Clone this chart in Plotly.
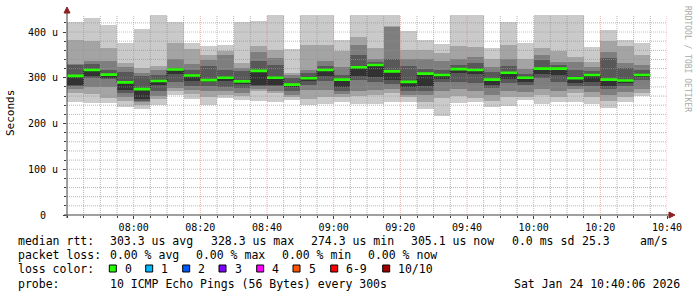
import plotly.graph_objects as go
from datetime import datetime, timedelta

# ---------------- data (µs) ----------------
START = datetime(2026, 1, 24, 7, 40)
END = datetime(2026, 1, 24, 10, 40)
STEP_MIN = 5

# sorted ping values per 5-minute bin (p1 = fastest ... p10 = slowest)
p1 = [248, 245, 245, 237, 231, 240, 262, 254, 240, 256, 252, 250, 246, 252, 241, 243, 248, 243, 242, 248,
      248, 231, 217, 245, 246, 236, 238, 252, 243, 246, 248, 242, 233, 246, 261]
p2 = [266, 265, 256, 250, 241, 254, 272, 265, 259, 263, 261, 270, 267, 258, 254, 259, 258, 261, 262, 266,
      258, 246, 256, 261, 256, 250, 259, 259, 262, 258, 266, 258, 250, 258, 267]
p3 = [275, 280, 280, 258, 246, 260, 278, 274, 270, 270, 267, 276, 270, 263, 274, 274, 264, 270, 273, 275,
      263, 262, 270, 275, 272, 262, 270, 268, 275, 272, 275, 269, 262, 268, 275]
p4 = [281, 300, 297, 266, 250, 270, 290, 283, 281, 280, 278, 281, 281, 272, 285, 292, 270, 296, 291, 287,
      272, 272, 290, 290, 289, 278, 289, 284, 300, 290, 283, 282, 276, 281, 296]
p5 = [285, 304, 300, 274, 254, 284, 308, 292, 290, 294, 287, 285, 285, 281, 292, 303, 280, 303, 302, 296,
      280, 282, 298, 310, 308, 285, 297, 290, 308, 306, 288, 291, 283, 290, 301]
p6 = [304, 317, 307, 290, 275, 293, 318, 305, 295, 300, 292, 315, 300, 285, 299, 317, 296, 323, 328, 314,
      291, 309, 306, 319, 317, 296, 311, 300, 320, 320, 299, 306, 296, 294, 306]
p7 = [327, 330, 316, 312, 303, 305, 322, 318, 325, 318, 314, 336, 329, 300, 310, 325, 307, 350, 334, 340,
      325, 320, 318, 328, 332, 312, 325, 308, 339, 328, 317, 315, 344, 322, 316]
p8 = [331, 336, 337, 323, 310, 318, 342, 331, 338, 349, 322, 357, 343, 305, 318, 336, 323, 372, 342, 410,
      340, 340, 336, 342, 346, 324, 341, 320, 350, 335, 335, 324, 357, 333, 328]
p9 = [382, 381, 366, 333, 322, 325, 376, 363, 350, 359, 333, 370, 360, 310, 372, 372, 358, 390, 364, 413,
      360, 360, 354, 369, 368, 341, 371, 342, 365, 358, 346, 335, 380, 370, 349]
p10 = [422, 431, 416, 377, 406, 440, 421, 377, 369, 372, 421, 425, 440, 363, 440, 440, 382, 440, 440, 440,
       402, 382, 374, 440, 440, 365, 421, 376, 440, 440, 440, 368, 404, 383, 375]
median = p6  # median rtt per bin

Y_MAX = 437.2
y_tick_vals = [0, 100, 200, 300, 400]
y_tick_text = ["0\u00a0\u00a0", "100 u", "200 u", "300 u", "400 u"]
x_tick_text = ["08:00", "08:20", "08:40", "09:00", "09:20", "09:40", "10:00", "10:20", "10:40"]

row1 = [("median rtt:", 16), ("303.3 us avg", 108), ("328.3 us max", 208.5), ("274.3 us min", 309),
        ("305.1 us now", 409), ("0.0 ms sd", 510), ("25.3", 579.5), ("am/s", 638)]
row2 = [("packet loss:", 16), ("0.00 % avg", 108), ("0.00 % max", 194), ("0.00 % min", 280),
        ("0.00 % now", 366)]
loss_labels = ["0", "1", "2", "3", "4", "5", "6-9", "10/10"]
loss_colors = ["#26ff00", "#00b8ff", "#0059ff", "#7e00ff", "#ff00ff", "#ff5500", "#ff0000", "#a10000"]
probe_text = "10 ICMP Echo Pings (56 Bytes) every 300s"
stamp_text = "Sat Jan 24 10:40:06 2026"

# ---------------- geometry helpers ----------------
W, H = 697, 297
L, R, T, B = 67, 667, 15, 215


def px(x):
    return (x - L) / (R - L)


def py(y):
    return (B - y) / (B - T)


step = timedelta(minutes=STEP_MIN)
bin_start = [START + step * k for k in range(len(median))]
bin_mid = [s + step / 2 for s in bin_start]
bin_end = [s + step for s in bin_start]
width_ms = STEP_MIN * 60 * 1000

fig = go.Figure()

# smoke
layers = [(p1, p10, "#cacaca"), (p2, p9, "#a4a4a4"), (p3, p8, "#7e7e7e"),
          (p4, p7, "#585858"), (p5, p6, "#323232")]
for lo, hi, col in layers:
    fig.add_trace(go.Bar(x=bin_mid, base=lo, y=[h - l for l, h in zip(lo, hi)], width=width_ms,
                         marker=dict(color=col, line=dict(width=0)), hoverinfo="skip",
                         showlegend=False))

# median step line
fig.add_trace(go.Scatter(x=bin_start + [bin_end[-1]], y=median + [median[-1]], mode="lines",
                         line=dict(color="#202020", width=1, shape="hv"), hoverinfo="skip",
                         showlegend=False))

# green median bars (loss 0)
SW = 2.9
gx, gy = [], []
for s, e, m in zip(bin_start, bin_end, median):
    gx += [s, e, e, s, s, None]
    gy += [m - SW, m - SW, m + SW, m + SW, m - SW, None]
fig.add_trace(go.Scatter(x=gx, y=gy, mode="lines", fill="toself", fillcolor=loss_colors[0],
                         line=dict(width=0, color=loss_colors[0]), hoverinfo="skip",
                         showlegend=False))

shapes = []
MINOR = "rgba(150,150,150,0.7)"
MAJOR = "rgba(225,110,110,0.55)"
DASH = "1px,1px"
# horizontal grid
for v in range(20, int(Y_MAX), 20):
    shapes.append(dict(type="line", xref="paper", yref="y", x0=0, x1=1, y0=v, y1=v, layer="above",
                       line=dict(color=MAJOR if v % 100 == 0 else MINOR, width=1, dash=DASH)))
# vertical grid
t = START + step
while t <= END:
    major = (t.minute % 20 == 0)
    shapes.append(dict(type="line", xref="x", yref="paper", x0=t, x1=t, y0=0, y1=1, layer="above",
                       line=dict(color=MAJOR if major else MINOR, width=1, dash=DASH)))
    t += step

AX = "#404040"
ARROW = "#8b2020"
shapes.append(dict(type="line", xref="paper", yref="paper", x0=px(64), x1=px(671), y0=py(215), y1=py(215),
                   line=dict(color=AX, width=1), layer="above"))
shapes.append(dict(type="line", xref="paper", yref="paper", x0=px(67), x1=px(67), y0=py(218), y1=py(11),
                   line=dict(color=AX, width=1), layer="above"))
shapes.append(dict(type="path", xref="paper", yref="paper", layer="above",
                   path=f"M {px(669)} {py(212)} L {px(675)} {py(215)} L {px(669)} {py(218)} Z",
                   fillcolor=ARROW, line=dict(color=ARROW, width=1)))
shapes.append(dict(type="path", xref="paper", yref="paper", layer="above",
                   path=f"M {px(64)} {py(13)} L {px(67)} {py(7)} L {px(70)} {py(13)} Z",
                   fillcolor=ARROW, line=dict(color=ARROW, width=1)))

MONO = "DejaVu Sans Mono"
LEG = dict(family=MONO, size=11.5, color="#000000")
ann = []


def text(s, x, y, font=LEG, xanchor="left", **kw):
    ann.append(dict(text=s, x=px(x), y=py(y), xref="paper", yref="paper", showarrow=False,
                    xanchor=xanchor, yanchor="middle", font=font, **kw))


for s, x in row1:
    text(s, x, 241)
for s, x in row2:
    text(s, x, 255)
text("loss color:", 16, 268.5)
box_x = [109.3, 145.7, 182.7, 219, 256.7, 293, 330.7, 382.7]
for lab, col, bx in zip(loss_labels, loss_colors, box_x):
    shapes.append(dict(type="rect", xref="paper", yref="paper", x0=px(bx), x1=px(bx + 7),
                       y0=py(265), y1=py(272), fillcolor=col, line=dict(color="#000000", width=1)))
    text(lab, bx + 13.5, 268.5)
text("probe:", 16, 283.5)
text(probe_text, 108, 283.5)
text(stamp_text, 682, 283.5, xanchor="right")
text("Seconds", 10, 113, font=dict(family=MONO, size=11, color="#000000"), xanchor="center",
     textangle=-90)
text("RRDTOOL / TOBI OETIKER", 687, 59, font=dict(family=MONO, size=8, color="#aaaaaa"),
     xanchor="center", textangle=90)

fig.update_layout(
    width=W, height=H, margin=dict(l=L, r=W - R, t=T, b=H - B, pad=0),
    paper_bgcolor="#ffffff", plot_bgcolor="#ffffff",
    barmode="overlay", bargap=0, showlegend=False,
    shapes=shapes, annotations=ann,
    xaxis=dict(type="date", range=[START, END], showgrid=False, zeroline=False, showline=False,
               tickvals=[datetime.strptime("2026-01-24 " + s, "%Y-%m-%d %H:%M") for s in x_tick_text],
               ticktext=x_tick_text, ticks="outside", ticklen=3, tickcolor=AX,
               tickfont=dict(family=MONO, size=10, color="#000000"),
               minor=dict(ticks="outside", ticklen=2, tickcolor=AX, dtick=width_ms, showgrid=False)),
    yaxis=dict(range=[0, Y_MAX], showgrid=False, zeroline=False, showline=False,
               tickvals=y_tick_vals, ticktext=y_tick_text, ticks="outside", ticklen=3, tickcolor=AX,
               tickfont=dict(family=MONO, size=10, color="#000000"), ticklabelstandoff=3,
               minor=dict(ticks="outside", ticklen=2, tickcolor=AX, dtick=20, showgrid=False)),
)

fig.write_html("out.html")
